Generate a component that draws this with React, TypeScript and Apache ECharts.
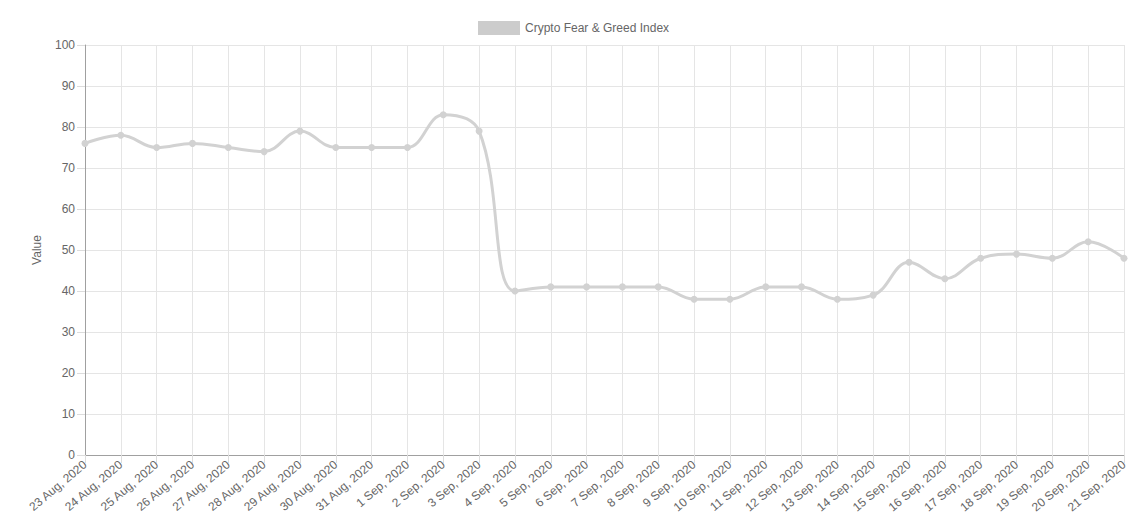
import React, { useEffect, useRef } from "react";
import * as echarts from "echarts";

const categories = [
  "23 Aug, 2020", "24 Aug, 2020", "25 Aug, 2020", "26 Aug, 2020", "27 Aug, 2020",
  "28 Aug, 2020", "29 Aug, 2020", "30 Aug, 2020", "31 Aug, 2020", "1 Sep, 2020",
  "2 Sep, 2020", "3 Sep, 2020", "4 Sep, 2020", "5 Sep, 2020", "6 Sep, 2020",
  "7 Sep, 2020", "8 Sep, 2020", "9 Sep, 2020", "10 Sep, 2020", "11 Sep, 2020",
  "12 Sep, 2020", "13 Sep, 2020", "14 Sep, 2020", "15 Sep, 2020", "16 Sep, 2020",
  "17 Sep, 2020", "18 Sep, 2020", "19 Sep, 2020", "20 Sep, 2020", "21 Sep, 2020",
];

const values = [
  76, 78, 75, 76, 75, 74, 79, 75, 75, 75,
  83, 79, 40, 41, 41, 41, 41, 38, 38, 41,
  41, 38, 39, 47, 43, 48, 49, 48, 52, 48,
];

const seriesName = "Crypto Fear & Greed Index";
const yAxisName = "Value";

export default function App() {
  const ref = useRef<HTMLDivElement>(null);
  useEffect(() => {
    if (!ref.current) return;
    const chart = echarts.init(ref.current, undefined, { renderer: "svg" });
    const font = "'Liberation Sans', Arial, Helvetica, sans-serif";
    chart.setOption({
      animation: false,
      textStyle: { fontFamily: font },
      legend: {
        top: 16,
        left: 473,
        itemWidth: 42,
        itemHeight: 14,
        itemGap: 10,
        icon: "rect",
        textStyle: { color: "#666", fontSize: 12, fontFamily: font },
        data: [{ name: seriesName, itemStyle: { color: "#cccccc" } }],
      },
      grid: { left: 85, right: 15, top: 45, bottom: 68, containLabel: false },
      xAxis: {
        type: "category",
        data: categories,
        boundaryGap: false,
        axisLine: { show: true, lineStyle: { color: "#a0a0a0", width: 1 } },
        axisTick: { show: true, length: 8, alignWithLabel: true, interval: 0, lineStyle: { color: "#dcdcdc" } },
        axisLabel: {
          interval: 0,
          rotate: 40,
          color: "#666",
          fontSize: 12,
          fontFamily: font,
          margin: 8,
        },
        splitLine: { show: true, interval: 0, lineStyle: { color: "#e5e5e5", width: 1 } },
      },
      yAxis: {
        type: "value",
        min: 0,
        max: 100,
        interval: 10,
        name: yAxisName,
        nameLocation: "middle",
        nameGap: 42,
        nameTextStyle: { color: "#666", fontSize: 12, fontFamily: font },
        axisLine: { show: true, lineStyle: { color: "#a0a0a0", width: 1 } },
        axisTick: { show: true, length: 8, lineStyle: { color: "#dcdcdc" } },
        axisLabel: { color: "#666", fontSize: 12, fontFamily: font, margin: 10 },
        splitLine: { show: true, lineStyle: { color: "#e5e5e5", width: 1 } },
      },
      series: [
        {
          name: seriesName,
          type: "line",
          data: values,
          smooth: 0.4,
          symbol: "circle",
          symbolSize: 7,
          showSymbol: true,
          itemStyle: { color: "#d2d2d2" },
          lineStyle: { color: "#d2d2d2", width: 3 },
        },
      ],
    });
    return () => chart.dispose();
  }, []);
  return (
    <div
      ref={ref}
      style={{ position: "fixed", left: 0, top: 0, width: 1139, height: 523, background: "#fff" }}
    />
  );
}
